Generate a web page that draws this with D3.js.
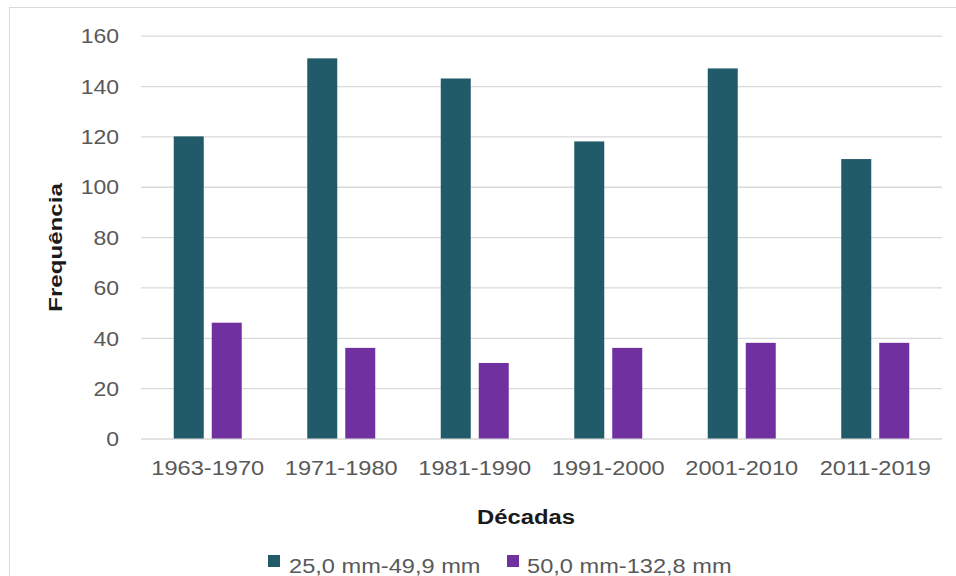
<!DOCTYPE html>
<html>
<head>
<meta charset="utf-8">
<script src="https://cdn.jsdelivr.net/npm/d3@7"></script>
<style>
  html, body { margin: 0; padding: 0; background: #ffffff; }
  svg { display: block; }
</style>
</head>
<body>
<svg id="chart" width="956" height="576"></svg>
<script>
const categories = ["1963-1970", "1971-1980", "1981-1990", "1991-2000", "2001-2010", "2011-2019"];
const seriesNames = ["25,0 mm-49,9 mm", "50,0 mm-132,8 mm"];
const series1 = [120, 151, 143, 118, 147, 111];
const series2 = [46, 36, 30, 36, 38, 38];
const yTicks = [0, 20, 40, 60, 80, 100, 120, 140, 160];
const colors = ["#215A69", "#7030A0"];

const FONT = "'Liberation Sans', Arial, sans-serif";
const svg = d3.select("#chart");
const plot = { left: 141, right: 942, top: 35.7, bottom: 438.5 };

function stretch(sel, f) {
  sel.each(function () {
    const n = this.getComputedTextLength();
    d3.select(this).attr("textLength", n * f).attr("lengthAdjust", "spacingAndGlyphs");
  });
}

// outer chart border
svg.append("rect")
  .attr("x", 9.5).attr("y", 7.5)
  .attr("width", 1000).attr("height", 700)
  .attr("fill", "none").attr("stroke", "#d9d9d9").attr("stroke-width", 1);

const x0 = d3.scaleBand().domain(categories).range([plot.left, plot.right]).padding(0);
const groupW = 68;
const x1 = d3.scaleBand().domain(seriesNames)
  .range([(x0.bandwidth() - groupW) / 2, (x0.bandwidth() + groupW) / 2])
  .paddingInner(8 / 38).paddingOuter(0);
const y = d3.scaleLinear().domain([0, 160]).range([plot.bottom, plot.top]);

// gridlines + y labels
const yAxis = d3.axisLeft(y).tickValues(yTicks).tickSize(-(plot.right - plot.left)).tickFormat(d => d);
const gy = svg.append("g").attr("transform", `translate(${plot.left},0)`).call(yAxis);
gy.select(".domain").remove();
gy.selectAll(".tick line").attr("stroke", "#d9d9d9").attr("stroke-width", 1.3);
const yText = gy.selectAll(".tick text")
  .attr("x", -22)
  .attr("dy", "0.36em")
  .attr("fill", "#595959")
  .style("font-family", FONT)
  .style("font-size", "20px");
stretch(yText, 1.15);

// bars
const data = categories.map((c, i) => ({ cat: c, vals: [series1[i], series2[i]] }));
const groups = svg.append("g").selectAll("g").data(data).join("g")
  .attr("transform", d => `translate(${x0(d.cat)},0)`);
groups.selectAll("rect")
  .data(d => d.vals.map((v, j) => ({ key: seriesNames[j], v, j })))
  .join("rect")
  .attr("x", d => x1(d.key))
  .attr("width", x1.bandwidth())
  .attr("y", d => y(d.v))
  .attr("height", d => y(0) - y(d.v))
  .attr("fill", d => colors[d.j]);

// x axis labels
const xAxis = d3.axisBottom(x0).tickSize(0).tickPadding(0);
const gx = svg.append("g").attr("transform", `translate(0,${plot.bottom})`).call(xAxis);
gx.select(".domain").remove();
const xText = gx.selectAll(".tick text")
  .attr("y", 36.5)
  .attr("dy", 0)
  .attr("fill", "#595959")
  .style("font-family", FONT)
  .style("font-size", "20px");
stretch(xText, 1.18);

// axis titles
const xt = svg.append("text")
  .attr("x", 526).attr("y", 523.5)
  .attr("text-anchor", "middle")
  .attr("fill", "#1a1a1a")
  .style("font-family", FONT)
  .style("font-size", "20px").style("font-weight", "bold")
  .text("Décadas");
stretch(xt, 1.19);

const yt = svg.append("text")
  .attr("transform", "translate(62,247.5) rotate(-90)")
  .attr("text-anchor", "middle")
  .attr("fill", "#1a1a1a")
  .style("font-family", FONT)
  .style("font-size", "19px").style("font-weight", "bold")
  .text("Frequência");
stretch(yt, 1.27);

// legend
const legendItems = [
  { name: seriesNames[0], color: colors[0], sx: 268, tx: 289 },
  { name: seriesNames[1], color: colors[1], sx: 507, tx: 527 }
];
const lg = svg.append("g");
legendItems.forEach(it => {
  lg.append("rect").attr("x", it.sx).attr("y", 555).attr("width", 12).attr("height", 12).attr("fill", it.color);
  const t = lg.append("text").attr("x", it.tx).attr("y", 573)
    .attr("fill", "#595959")
    .style("font-family", FONT)
    .style("font-size", "20px")
    .text(it.name);
  stretch(t, 1.18);
});
</script>
</body>
</html>
